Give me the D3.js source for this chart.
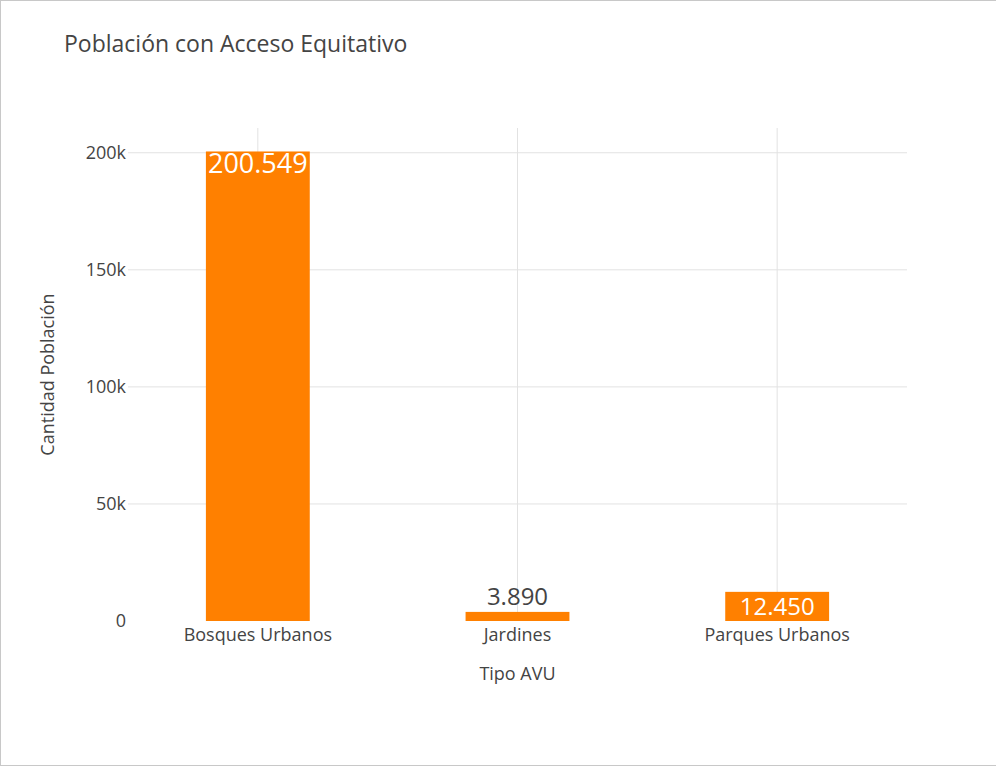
<!DOCTYPE html>
<html>
<head>
<meta charset="utf-8">
<script src="https://cdn.jsdelivr.net/npm/d3@7"></script>
<style>
  body { margin: 0; background: #fff; }
  svg { display: block; font-family: "Open Sans", sans-serif; }
</style>
</head>
<body>
<svg width="996" height="767"></svg>
<script>
// datos
var categorias = ["Bosques Urbanos", "Jardines", "Parques Urbanos"];
var poblacion = [200549, 3890, 12450];
var etiquetas = ["200.549", "3.890", "12.450"];
var ticksY = [0, 50000, 100000, 150000, 200000];
var ticksYTexto = ["0", "50k", "100k", "150k", "200k"];

var svg = d3.select("svg"),
    margin = { top: 128, right: 89, bottom: 146, left: 128 },
    width = 996 - margin.left - margin.right,
    height = 767 - margin.top - margin.bottom;

// borde
svg.append("rect")
  .attr("x", 0.5).attr("y", 0.5)
  .attr("width", 1000).attr("height", 765)
  .attr("fill", "none").attr("stroke", "#c8c8c8");

var g = svg.append("g").attr("transform", "translate(" + margin.left + "," + margin.top + ")");

var x = d3.scaleBand().domain(categorias).range([0, width]).paddingInner(0.6).paddingOuter(0.3);
var y = d3.scaleLinear().domain([0, d3.max(poblacion) * 1.05]).range([height, 0]);

// rejilla
g.selectAll(".gx").data(categorias).enter().append("line")
  .attr("x1", function(d) { return x(d) + x.bandwidth() / 2; })
  .attr("x2", function(d) { return x(d) + x.bandwidth() / 2; })
  .attr("y1", 0).attr("y2", height)
  .attr("stroke", "#e2e2e2");
g.selectAll(".gy").data(ticksY.slice(1)).enter().append("line")
  .attr("x1", 0).attr("x2", width)
  .attr("y1", function(d) { return y(d); })
  .attr("y2", function(d) { return y(d); })
  .attr("stroke", "#e2e2e2");

// ejes
var ejeY = g.append("g")
  .call(d3.axisLeft(y).tickValues(ticksY).tickSize(0).tickPadding(2)
    .tickFormat(function(d, i) { return ticksYTexto[i]; }));
ejeY.select(".domain").remove();
ejeY.selectAll("text").attr("font-size", 18).attr("fill", "#444").attr("font-family", "Open Sans");

var ejeX = g.append("g").attr("transform", "translate(0," + height + ")")
  .call(d3.axisBottom(x).tickSize(0).tickPadding(7));
ejeX.select(".domain").remove();
ejeX.selectAll("text").attr("font-size", 18).attr("fill", "#444").attr("font-family", "Open Sans");

// barras
var naranja = "#ff8000";
g.selectAll(".bar").data(poblacion).enter().append("rect")
  .attr("x", function(d, i) { return x(categorias[i]); })
  .attr("y", function(d) { return y(d); })
  .attr("width", x.bandwidth())
  .attr("height", function(d) { return height - y(d); })
  .attr("fill", naranja);

// textos de barras
g.selectAll(".lbl").data(poblacion).enter().append("text")
  .attr("x", function(d, i) { return x(categorias[i]) + x.bandwidth() / 2; })
  .attr("text-anchor", "middle")
  .attr("font-family", "Open Sans")
  .each(function(d, i) {
    var h = height - y(d), t = d3.select(this);
    if (h > 40) {
      t.attr("y", y(d) + 22).attr("font-size", 27).attr("fill", "#fff");
    } else if (h > 20) {
      t.attr("y", y(d) + h / 2 + 8.5).attr("font-size", 24).attr("fill", "#fff");
    } else {
      t.attr("y", y(d) - 7).attr("font-size", 24).attr("fill", "#444");
    }
  })
  .text(function(d, i) { return etiquetas[i]; });

// títulos
svg.append("text").attr("x", 64).attr("y", 52)
  .attr("font-size", 23).attr("fill", "#444")
  .text("Población con Acceso Equitativo");

svg.append("text")
  .attr("x", margin.left + width / 2).attr("y", 680)
  .attr("text-anchor", "middle").attr("font-size", 18).attr("fill", "#444")
  .text("Tipo AVU");

svg.append("text")
  .attr("transform", "translate(54," + (margin.top + height / 2) + ") rotate(-90)")
  .attr("text-anchor", "middle").attr("font-size", 18).attr("fill", "#444")
  .text("Cantidad Población");
</script>
</body>
</html>
